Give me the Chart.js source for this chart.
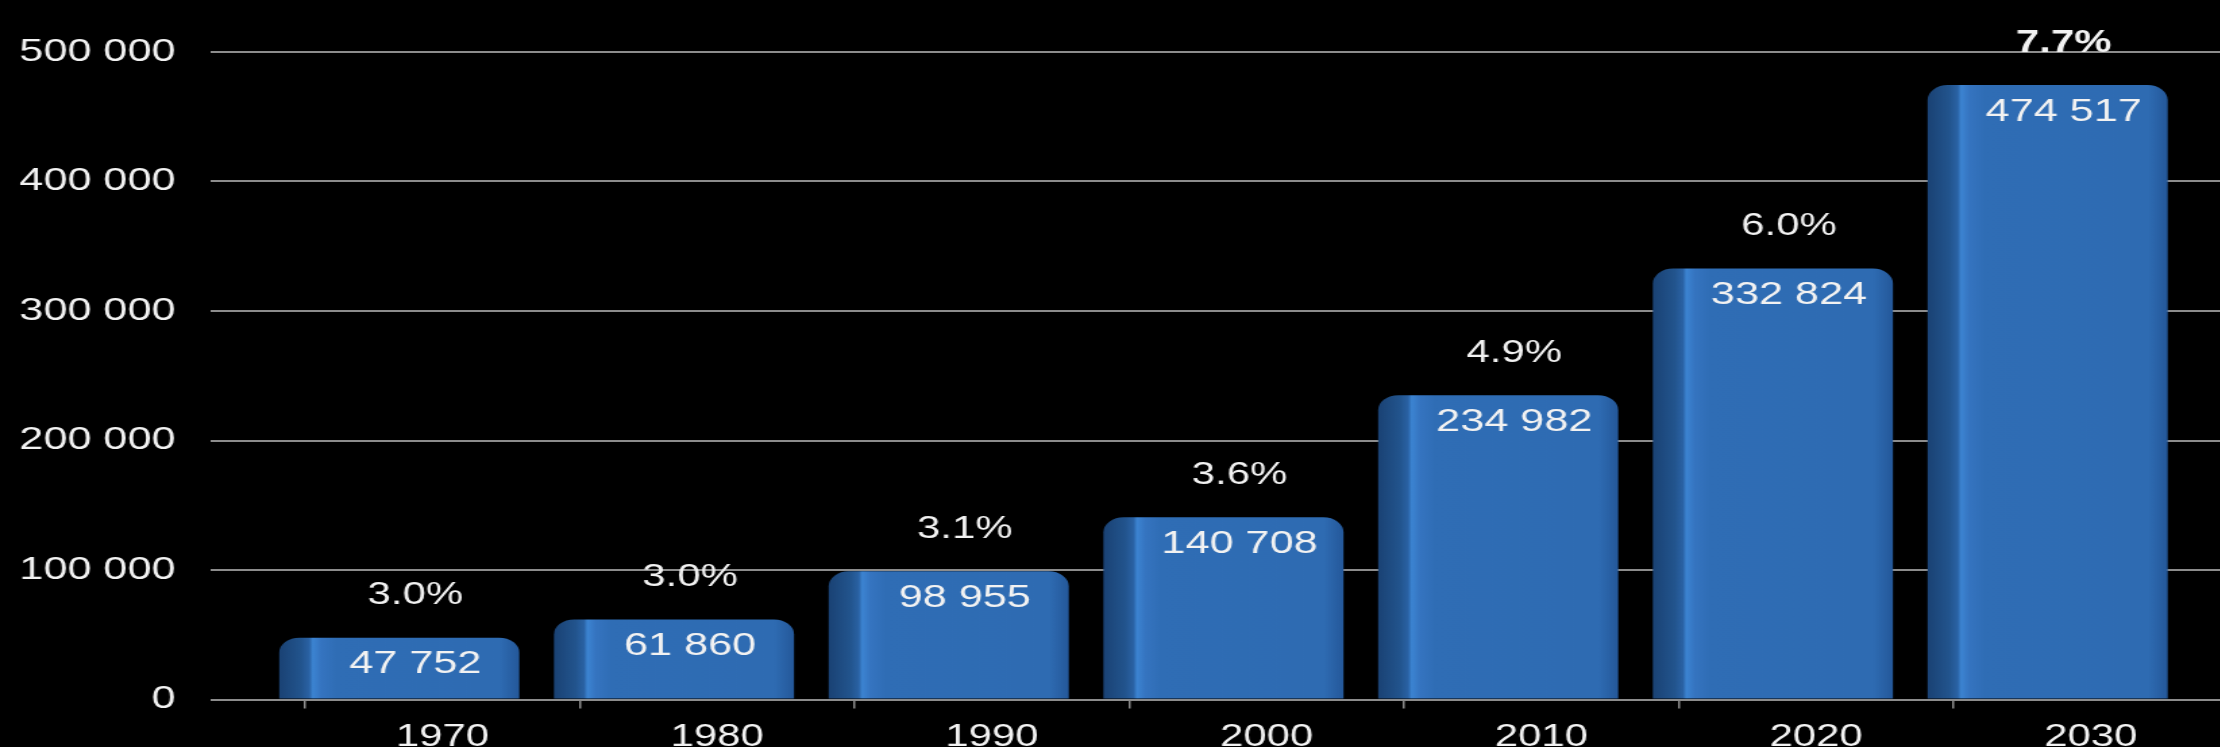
<!DOCTYPE html>
<html>
<head>
<meta charset="utf-8">
<script src="https://cdn.jsdelivr.net/npm/chart.js@4/dist/chart.umd.min.js"></script>
<style>
html,body{margin:0;padding:0;background:#000;overflow:hidden;}
#frame{width:2220px;height:747px;overflow:hidden;position:relative;background:#000;}
#wrap{position:absolute;left:0;top:0;width:1660px;height:772px;transform:scaleX(1.35);transform-origin:0 0;}
canvas{display:block;}
</style>
</head>
<body>
<div id="frame"><div id="wrap"><canvas id="c" width="1660" height="772"></canvas></div></div>
<script>
// ---- data ----
const categories = ['1970', '1980', '1990', '2000', '2010', '2020', '2030'];
const values = [47752, 61860, 98955, 140708, 234982, 332824, 474517];
const growthLabels = ['3.0%', '3.0%', '3.1%', '3.6%', '4.9%', '6.0%', '7.7%'];
const yTicks = [0, 100000, 200000, 300000, 400000, 500000];

// ---- styling ----
const FONT = "'Liberation Sans', Arial, Helvetica, sans-serif";
const GRID = 'rgb(140,140,140)';
const TEXT = '#f2f2f2';
const BAR_PCT = 0.874;
const BAR_SHIFT = -32;       // 3D perspective shift of the bars (logical px)

function fmt(v) { return String(v).replace(/\B(?=(\d{3})+(?!\d))/g, ' '); }

function barFill(c) {
  if (c.type !== 'data' || !c.chart.scales || !c.chart.scales.x) return '#2f6db5';
  const xs = c.chart.scales.x;
  const cx = xs.getPixelForValue(c.dataIndex);
  const cw = (xs.right - xs.left) / categories.length;
  const w = cw * BAR_PCT;
  const l = cx - w / 2, r = cx + w / 2;
  if (!isFinite(l) || !isFinite(r) || r <= l) return '#2f6db5';
  const g = c.chart.ctx.createLinearGradient(l, 0, r, 0);
  g.addColorStop(0, '#1a4274');
  g.addColorStop(0.09, '#22548d');
  g.addColorStop(0.125, '#2a62a4');
  g.addColorStop(0.14, '#3c84d2');
  g.addColorStop(0.175, '#3574c0');
  g.addColorStop(0.24, '#2f6db5');
  g.addColorStop(0.92, '#2e6bb2');
  g.addColorStop(1, '#24589a');
  return g;
}

const shiftPlugin = {
  id: 'shift3d',
  beforeDatasetsDraw(chart) { chart.ctx.save(); chart.ctx.translate(BAR_SHIFT, 0); },
  afterDatasetsDraw(chart) { chart.ctx.restore(); }
};

const labelPlugin = {
  id: 'barLabels',
  afterDraw(chart) {
    const ctx = chart.ctx;
    const meta = chart.getDatasetMeta(0);
    ctx.save();
    ctx.fillStyle = TEXT;
    ctx.textAlign = 'center';
    ctx.textBaseline = 'middle';
    meta.data.forEach((el, i) => {
      const x = el.x + BAR_SHIFT + el.width * 0.067;
      ctx.font = 'normal 32px ' + FONT;
      ctx.fillText(fmt(values[i]), x, el.y + 27);
      ctx.font = (i === values.length - 1 ? 'bold ' : 'normal ') + '31px ' + FONT;
      ctx.fillText(growthLabels[i], x, el.y - 42);
    });
    ctx.restore();
  }
};

new Chart(document.getElementById('c'), {
  type: 'bar',
  data: {
    labels: categories,
    datasets: [{
      data: values,
      backgroundColor: barFill,
      borderWidth: 0,
      borderRadius: 15,
      borderSkipped: 'bottom',
      barPercentage: BAR_PCT,
      categoryPercentage: 1,
      clip: false
    }]
  },
  options: {
    responsive: false,
    animation: false,
    devicePixelRatio: 1,
    layout: { padding: { top: 52, right: 9.5, bottom: 6.3, left: 0 } },
    plugins: { legend: { display: false }, tooltip: { enabled: false } },
    scales: {
      x: {
        offset: true,
        grid: { offset: true, drawOnChartArea: false, drawTicks: true, tickLength: 9, color: GRID, lineWidth: 1.5 },
        border: { display: false },
        ticks: { color: TEXT, padding: 10, font: { family: FONT, size: 31, lineHeight: 1.2 }, maxRotation: 0, autoSkip: false }
      },
      y: {
        min: 0,
        max: 500000,
        afterBuildTicks(s) { s.ticks = yTicks.map(v => ({ value: v })); },
        afterFit(s) { s.width = 226; },
        grid: { color: GRID, lineWidth: 2, tickLength: 70, drawTicks: true },
        border: { display: false },
        ticks: { color: TEXT, padding: 26, font: { family: FONT, size: 32 }, callback: v => fmt(v) }
      }
    }
  },
  plugins: [shiftPlugin, labelPlugin]
});
</script>
</body>
</html>
